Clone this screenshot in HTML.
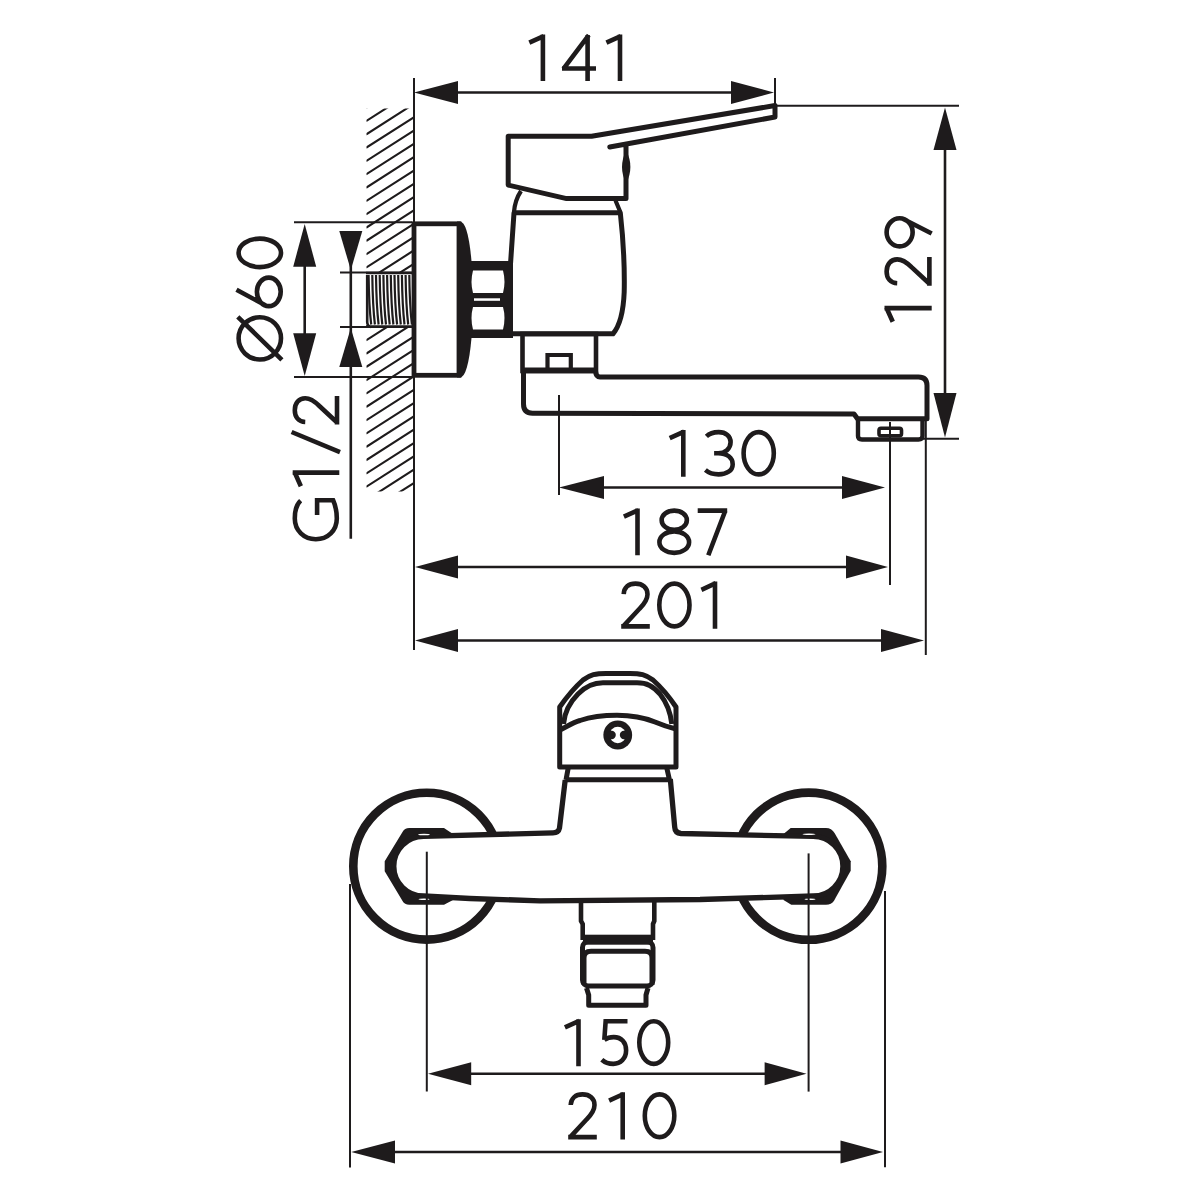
<!DOCTYPE html>
<html lang="en"><head><meta charset="utf-8"><title>Mixer tap dimensions</title><style>
html,body{margin:0;padding:0;background:#fff;}
svg{display:block;}
</style></head><body>
<svg width="1200" height="1200" viewBox="0 0 1200 1200" role="img" aria-label="Wall-mounted mixer tap dimension drawing: 141, 129, Ø60, G1/2, 130, 187, 201, 150, 210">
<title>Wall-mounted mixer tap dimension drawing</title>
<rect width="1200" height="1200" fill="#fff"/>
<clipPath id="thc"><rect x="366" y="272" width="46" height="56"/></clipPath>
<clipPath id="hc1"><rect x="366.5" y="108.5" width="47" height="164"/></clipPath>
<clipPath id="hc2"><rect x="366.5" y="327" width="47" height="164.5"/></clipPath>
<path clip-path="url(#hc1)" d="M366,107.89 L415,76.53 M366,121.21 L415,89.85 M366,134.53 L415,103.17 M366,147.85 L415,116.49 M366,161.17 L415,129.81 M366,174.49 L415,143.13 M366,187.81 L415,156.45 M366,201.13 L415,169.77 M366,214.45 L415,183.09 M366,227.77 L415,196.41 M366,241.09 L415,209.73 M366,254.41 L415,223.05 M366,267.73 L415,236.37 M366,281.05 L415,249.69 M366,294.37 L415,263.01 M366,307.69 L415,276.33" stroke="#1e1b1c" stroke-width="2.1" fill="none"/>
<path clip-path="url(#hc2)" d="M366,327.14 L415,295.78 M366,340.46 L415,309.10 M366,353.78 L415,322.42 M366,367.10 L415,335.74 M366,380.42 L415,349.06 M366,393.74 L415,362.38 M366,407.06 L415,375.70 M366,420.38 L415,389.02 M366,433.70 L415,402.34 M366,447.02 L415,415.66 M366,460.34 L415,428.98 M366,473.66 L415,442.30 M366,486.98 L415,455.62 M366,500.30 L415,468.94 M366,513.62 L415,482.26 M366,526.94 L415,495.58" stroke="#1e1b1c" stroke-width="2.1" fill="none"/>
<rect x="366" y="272" width="46" height="55" fill="#fff"/>
<path clip-path="url(#thc)" d="M368.60,275 Q369.00,306 371.20,324.5 M372.30,275 Q372.70,306 374.90,324.5 M376.00,275 Q376.40,306 378.60,324.5 M379.70,275 Q380.10,306 382.30,324.5 M383.40,275 Q383.80,306 386.00,324.5 M387.10,275 Q387.50,306 389.70,324.5 M390.80,275 Q391.20,306 393.40,324.5 M394.50,275 Q394.90,306 397.10,324.5 M398.20,275 Q398.60,306 400.80,324.5 M401.90,275 Q402.30,306 404.50,324.5 M405.60,275 Q406.00,306 408.20,324.5 M409.30,275 Q409.70,306 411.90,324.5" stroke="#1e1b1c" stroke-width="2.2" fill="none"/>
<path d="M367.2,275 L367.2,322 Q367.2,326 371,327 M366,273 L412,273 M366,326.6 L412,326.6" stroke="#1e1b1c" stroke-width="2.6" fill="none"/>
<rect x="414" y="223.8" width="45" height="151.5" fill="#fff" stroke="#1e1b1c" stroke-width="4.8"/>
<path d="M457,221.5 L460,221.5 Q468,222 471.5,261 L471.5,338 Q468,377 460,377.5 L457,377.5 Z" fill="#1e1b1c"/>
<rect x="470" y="261" width="43" height="77" fill="#1e1b1c"/>
<path d="M473,270.5 L503,270.5 Q506,282 503,293 L473,293 Q470,282 473,270.5 Z M473,307 L503,307 Q506,318 503,329.5 L473,329.5 Q470,318 473,307 Z" fill="#fff"/>
<rect x="474" y="298.3" width="26" height="2.5" fill="#fff"/>
<path d="M514,212.8 L620.3,212.8 Q625,255 624.2,292 Q623,322 613,333.8 L510.5,333.8 L510.5,264 Z" fill="#fff" stroke="#1e1b1c" stroke-width="5.0" stroke-linejoin="round"/>
<path d="M521,191 Q515,200 514,212 M615.5,200.5 L620.3,212" fill="none" stroke="#1e1b1c" stroke-width="4.2"/>
<path d="M609.8,147 L775,117 L775,105.5 L591.6,136.3 L508.2,136.3 L508.2,185.1 L566.6,198.6 L626,198.6 L626,144" fill="none" stroke="#1e1b1c" stroke-width="5.0" stroke-linejoin="round" stroke-linecap="round"/>
<path d="M626.2,150.5 Q634.6,167 626.2,183.5 Q617.8,167 626.2,150.5 Z" fill="#1e1b1c"/>
<rect x="522.5" y="334" width="73.5" height="37" fill="none" stroke="#1e1b1c" stroke-width="4.6"/>
<path d="M547.5,371 L547.5,355 L570.8,355 L570.8,371" fill="none" stroke="#1e1b1c" stroke-width="4.2"/>
<path d="M521,370.4 L597,370.4" fill="none" stroke="#1e1b1c" stroke-width="5.8"/>
<path d="M523.5,371 L523.5,404 Q523.5,413.2 532.5,413.2 L854,414 L857.5,418.8 L927,418.8 L927,385.5 Q927,377 918.5,377 L600,377 Q596,377 595.5,371" fill="none" stroke="#1e1b1c" stroke-width="5.0" stroke-linejoin="round"/>
<path d="M858,419 L858,436 Q858,439.5 862,439.5 L918.5,439.5 Q922.5,439.5 922.5,436 L922.5,419" fill="none" stroke="#1e1b1c" stroke-width="4.4"/>
<rect x="879" y="428.2" width="22.5" height="7.6" rx="2" fill="none" stroke="#1e1b1c" stroke-width="3.6"/>
<circle cx="426.7" cy="866.2" r="73.4" fill="none" stroke="#1e1b1c" stroke-width="8.6"/>
<circle cx="808.7" cy="866.2" r="73.6" fill="none" stroke="#1e1b1c" stroke-width="8.6"/>
<path d="M409.3,828 L444,828 L453,834 L453,900 L444,904.7 L409.3,904.7 Q404.5,904.7 402.7,901.3 L384.7,871.3 L384.7,861.3 L402.5,832 Q404.5,828 409.3,828 Z" fill="#1e1b1c"/>
<path d="M790.7,828 L826,828 Q831.5,828 834.7,833.3 L850.7,861.3 L850.7,870.7 L834,900.7 Q831.5,904.7 826,904.7 L791.3,904.7 L783.5,900 L783.5,834 Z" fill="#1e1b1c"/>
<path d="M565.2,780 L559.5,828 Q558.5,832.8 553,832.8 L423.6,836.4 A29.8,29.8 0 0 0 423.6,896 L470,898.5 L540,900.8 L700,899.5 L813.1,896 A29.8,29.8 0 0 0 813.1,836.4 L681,833.5 Q675,833 674.7,827 L670.3,779" fill="#fff" stroke="#1e1b1c" stroke-width="5.3" stroke-linejoin="round"/>
<ellipse cx="424" cy="834.6" rx="6" ry="0.75" fill="#fff"/>
<ellipse cx="424" cy="899.2" rx="5.5" ry="0.7" fill="#fff"/>
<ellipse cx="809" cy="834.2" rx="6.5" ry="0.75" fill="#fff"/>
<ellipse cx="810" cy="899.2" rx="5.5" ry="0.7" fill="#fff"/>
<path d="M559.7,707 L559.7,767 L676,767 L676,707 C670,698 662,688 653,680 C646,674.5 640,673.4 630,673.4 L606,673.4 C596,673.4 590,674.5 583,680 C574,688 566,698 559.7,707 Z" fill="#fff" stroke="#1e1b1c" stroke-width="5" stroke-linejoin="round"/>
<path d="M563.5,724 C564.5,712 570,702 578,694 C585,687 592,682.8 603,682.8 L637,682.8 C647,682.8 653,686 660,694 C667,703 670.5,712 671.8,724" fill="none" stroke="#1e1b1c" stroke-width="5"/>
<path d="M560,730 C568,726 573,722.5 580,720.5 C592,716.5 604,715.3 617,715.3 C632,715.3 645,718 655,722 C662,725 668,727 676,729" fill="none" stroke="#1e1b1c" stroke-width="5"/>
<circle cx="617.75" cy="735" r="14.4" fill="#1e1b1c"/>
<circle cx="617.75" cy="735" r="8.2" fill="#fff"/>
<circle cx="611.6" cy="735" r="4.2" fill="#1e1b1c"/>
<circle cx="624" cy="735" r="4.2" fill="#1e1b1c"/>
<path d="M568.2,768 L566,780 M666.8,768 L669.5,780 M565,779.8 L671,779.8" fill="none" stroke="#1e1b1c" stroke-width="5"/>
<path d="M581,901 L581,921 L582.7,924 L582.7,940 M654.3,901 L654.3,921 L653,924 L653,940" fill="none" stroke="#1e1b1c" stroke-width="4.6"/>
<rect x="583" y="934.7" width="70" height="10" fill="#1e1b1c"/>
<rect x="582.5" y="941.5" width="70.5" height="44.5" rx="6" fill="none" stroke="#1e1b1c" stroke-width="5"/>
<path d="M584,985 L584,958 Q584,951.3 591,951.3 L645,951.3 Q652,951.3 652,958 L652,985" fill="none" stroke="#1e1b1c" stroke-width="5"/>
<path d="M586.5,988 L588.7,995 L588.7,1005.3 L646,1005.3 L646,995 L648,988" fill="none" stroke="#1e1b1c" stroke-width="5" stroke-linejoin="round"/>
<g fill="none" stroke="#1e1b1c" stroke-width="4.6" stroke-linecap="butt" stroke-linejoin="miter">
<g role="img" aria-label="141">
<path transform="matrix(1 0 0 0.9957 528.90 34.20)" d="M0.40,8.4 L14.80,1.9 M14.00,0.2 L14.00,47"/>
<path transform="matrix(1 0 0 0.9957 562.00 34.20)" d="M25.6,47 L25.6,0.8 M26.8,1.0 L1.4,34.8 M0,34.4 L34,34.4"/>
<path transform="matrix(1 0 0 0.9957 606.00 34.20)" d="M0.40,8.4 L14.80,1.9 M14.00,0.2 L14.00,47"/>
</g>
<g role="img" aria-label="130">
<path transform="matrix(1 0 0 0.9979 668.90 429.80)" d="M0.80,8.4 L15.20,1.9 M14.40,0.2 L14.40,47"/>
<path transform="matrix(1 0 0 0.9979 704.60 429.80)" d="M1.8,6.6 C5,3.5 9,2.3 14,2.3 C21.5,2.3 26,6.5 26,12.3 C26,19 20.5,23.5 13.5,23.5 L9.5,23.5 M13.5,23.5 C22.5,23.5 28.1,28 28.1,34.4 C28.1,41 22,44.7 14,44.7 C8.5,44.7 4,43 0.8,40.3"/>
<path transform="matrix(1 0 0 0.9979 741.30 429.80)" d="M2.30,23.50 A15.10,21.20 0 1 0 32.50,23.50 A15.10,21.20 0 1 0 2.30,23.50 Z"/>
</g>
<g role="img" aria-label="187">
<path transform="matrix(1 0 0 0.9979 622.80 508.30)" d="M1.10,8.4 L15.50,1.9 M14.70,0.2 L14.70,47"/>
<path transform="matrix(1 0 0 0.9979 657.10 508.30)" d="M4.55,11.90 A12.60,9.60 0 1 0 29.75,11.90 A12.60,9.60 0 1 0 4.55,11.90 Z M2.30,33.90 A14.85,10.80 0 1 0 32.00,33.90 A14.85,10.80 0 1 0 2.30,33.90 Z"/>
<path transform="matrix(1 0 0 0.9979 697.70 508.30)" d="M0,2.3 L29.5,2.3 M27.6,2.4 L10.6,47"/>
</g>
<g role="img" aria-label="201">
<path transform="matrix(1 0 0 1.0085 621.20 581.30)" d="M2.5,12.8 C2.8,6 7.5,2.3 14.3,2.3 C21.5,2.3 26.3,6.5 26.3,12.8 C26.3,18.5 23,22.5 18.5,27 L2.2,44.5 M0,44.7 L28.6,44.7"/>
<path transform="matrix(1 0 0 1.0085 657.00 581.30)" d="M2.30,23.50 A15.10,21.20 0 1 0 32.50,23.50 A15.10,21.20 0 1 0 2.30,23.50 Z"/>
<path transform="matrix(1 0 0 1.0085 700.60 581.30)" d="M0.80,8.4 L15.20,1.9 M14.40,0.2 L14.40,47"/>
</g>
<g role="img" aria-label="150">
<path transform="matrix(1 0 0 1.0043 564.60 1019.00)" d="M0.30,8.4 L14.70,1.9 M13.90,0.2 L13.90,47"/>
<path transform="matrix(1 0 0 1.0043 600.50 1019.00)" d="M5.0,2.3 L27,2.3 M5.3,0.2 L3.8,20.8 M3.8,20.8 C7,18.6 10,18 13.2,18 C21,18 25.6,23.5 25.6,31.2 C25.6,39.5 20,44.7 12.8,44.7 C8,44.7 4.2,43.2 1.3,40.6"/>
<path transform="matrix(1 0 0 1.0043 637.00 1019.00)" d="M2.30,23.50 A14.45,21.20 0 1 0 31.20,23.50 A14.45,21.20 0 1 0 2.30,23.50 Z"/>
</g>
<g role="img" aria-label="210">
<path transform="matrix(1 0 0 1.0064 568.20 1092.10)" d="M2.5,12.8 C2.8,6 7.5,2.3 14.3,2.3 C21.5,2.3 26.3,6.5 26.3,12.8 C26.3,18.5 23,22.5 18.5,27 L2.2,44.5 M0,44.7 L28.6,44.7"/>
<path transform="matrix(1 0 0 1.0064 608.60 1092.10)" d="M0.50,8.4 L14.90,1.9 M14.10,0.2 L14.10,47"/>
<path transform="matrix(1 0 0 1.0064 642.50 1092.10)" d="M2.30,23.50 A14.75,21.20 0 1 0 31.80,23.50 A14.75,21.20 0 1 0 2.30,23.50 Z"/>
</g>
<g role="img" aria-label="129">
<path transform="matrix(0 -1 1.0085 0 884.30 322.20)" d="M0.50,8.4 L14.90,1.9 M14.10,0.2 L14.10,47"/>
<path transform="matrix(0 -1 1.0085 0 884.30 285.70)" d="M2.5,12.8 C2.8,6 7.5,2.3 14.3,2.3 C21.5,2.3 26.3,6.5 26.3,12.8 C26.3,18.5 23,22.5 18.5,27 L2.2,44.5 M0,44.7 L28.6,44.7"/>
<path transform="matrix(0 -1 1.0085 0 884.30 248.70)" d="M2.30,15.20 A14.05,12.90 0 1 0 30.40,15.20 A14.05,12.90 0 1 0 2.30,15.20 Z M30.2,17.8 L15.2,47"/>
</g>
<g role="img" aria-label="Ø60">
<path transform="matrix(0 -1 1.0000 0 236.30 361.70)" d="M2.25,23.50 A21.10,21.20 0 1 0 44.45,23.50 A21.10,21.20 0 1 0 2.25,23.50 Z M44.9,1.5 L1.9,45.6"/>
<path transform="matrix(0 -1 1.0000 0 236.30 308.40)" d="M2.30,32.50 A14.25,11.90 0 1 0 30.80,32.50 A14.25,11.90 0 1 0 2.30,32.50 Z M18.6,0.2 L2.9,29.5"/>
<path transform="matrix(0 -1 1.0000 0 236.30 269.40)" d="M2.30,23.50 A14.25,21.20 0 1 0 30.80,23.50 A14.25,21.20 0 1 0 2.30,23.50 Z"/>
</g>
<g role="img" aria-label="G1/2">
<path transform="matrix(0 -1 0.9957 0 292.50 541.50)" d="M40.9,8.2 C37,3.8 30.5,2.3 23,2.3 C11,2.3 2.3,11.5 2.3,23.4 C2.3,35.5 11,44.5 23,44.5 C30,44.5 36,43.2 41.2,40.8 L41.2,24.7 L26.6,24.7"/>
<path transform="matrix(0 -1 0.9957 0 292.50 486.00)" d="M-0.20,8.4 L14.20,1.9 M13.40,0.2 L13.40,47"/>
<path transform="matrix(0 -1 0.9957 0 292.50 424.50)" d="M2.5,12.8 C2.8,6 7.5,2.3 14.3,2.3 C21.5,2.3 26.3,6.5 26.3,12.8 C26.3,18.5 23,22.5 18.5,27 L2.2,44.5 M0,44.7 L28.6,44.7"/>
</g>
<path d="M340,452.2 L291.6,432"/>
</g>
<g stroke="#1e1b1c" fill="none" stroke-linecap="butt">
<line x1="414" y1="78" x2="414" y2="650" stroke-width="2.0"/>
<line x1="440" y1="92.5" x2="750" y2="92.5" stroke-width="2.6"/>
<line x1="775" y1="78" x2="775" y2="106" stroke-width="2.0"/>
<line x1="775" y1="105.8" x2="959" y2="105.8" stroke-width="2.0"/>
<line x1="945" y1="130" x2="945" y2="415" stroke-width="2.6"/>
<line x1="922" y1="438.7" x2="959" y2="438.7" stroke-width="2.0"/>
<line x1="294" y1="222.2" x2="412" y2="222.2" stroke-width="2.0"/>
<line x1="294" y1="377.1" x2="412" y2="377.1" stroke-width="2.0"/>
<line x1="304.7" y1="245" x2="304.7" y2="355" stroke-width="2.6"/>
<line x1="340" y1="272.5" x2="412" y2="272.5" stroke-width="2.0"/>
<line x1="340" y1="327" x2="412" y2="327" stroke-width="2.0"/>
<line x1="350.8" y1="231" x2="350.8" y2="538.7" stroke-width="2.6"/>
<line x1="559" y1="395" x2="559" y2="495" stroke-width="2.0"/>
<line x1="890" y1="422" x2="890" y2="585" stroke-width="2.0"/>
<line x1="925.8" y1="420" x2="925.8" y2="655" stroke-width="2.0"/>
<line x1="580" y1="487.5" x2="865" y2="487.5" stroke-width="2.6"/>
<line x1="435" y1="567" x2="868" y2="567" stroke-width="2.6"/>
<line x1="435" y1="640.5" x2="905" y2="640.5" stroke-width="2.6"/>
<line x1="426.8" y1="851.7" x2="426.8" y2="1091.5" stroke-width="2.0"/>
<line x1="808.6" y1="853.4" x2="808.6" y2="1091.6" stroke-width="2.0"/>
<line x1="450" y1="1073.75" x2="785" y2="1073.75" stroke-width="2.6"/>
<line x1="350" y1="884" x2="350" y2="1167.5" stroke-width="2.0"/>
<line x1="885" y1="891" x2="885" y2="1167.3" stroke-width="2.0"/>
<line x1="370" y1="1152" x2="860" y2="1152" stroke-width="2.6"/>
</g>
<g fill="#1e1b1c" stroke="none">
<path d="M414.00,92.50 L458.00,104.00 L458.00,81.00 Z"/>
<path d="M774.00,92.50 L731.00,81.00 L731.00,104.00 Z"/>
<path d="M945.00,107.50 L933.50,150.00 L956.50,150.00 Z"/>
<path d="M945.00,437.50 L956.50,393.00 L933.50,393.00 Z"/>
<path d="M304.70,224.00 L293.20,266.70 L316.20,266.70 Z"/>
<path d="M304.70,376.00 L316.20,333.30 L293.20,333.30 Z"/>
<path d="M350.80,270.00 L362.30,231.00 L339.30,231.00 Z"/>
<path d="M350.80,328.00 L339.30,367.00 L362.30,367.00 Z"/>
<path d="M559.00,487.50 L604.00,499.00 L604.00,476.00 Z"/>
<path d="M885.00,487.50 L842.00,476.00 L842.00,499.00 Z"/>
<path d="M415.00,567.00 L458.00,578.50 L458.00,555.50 Z"/>
<path d="M888.00,567.00 L846.00,555.50 L846.00,578.50 Z"/>
<path d="M415.00,640.50 L458.00,652.00 L458.00,629.00 Z"/>
<path d="M924.00,640.50 L881.00,629.00 L881.00,652.00 Z"/>
<path d="M428.00,1073.75 L471.20,1085.25 L471.20,1062.25 Z"/>
<path d="M806.50,1073.75 L764.60,1062.25 L764.60,1085.25 Z"/>
<path d="M351.20,1152.00 L395.00,1163.50 L395.00,1140.50 Z"/>
<path d="M883.00,1152.00 L840.50,1140.50 L840.50,1163.50 Z"/>
</g>
</svg>
</body></html>
